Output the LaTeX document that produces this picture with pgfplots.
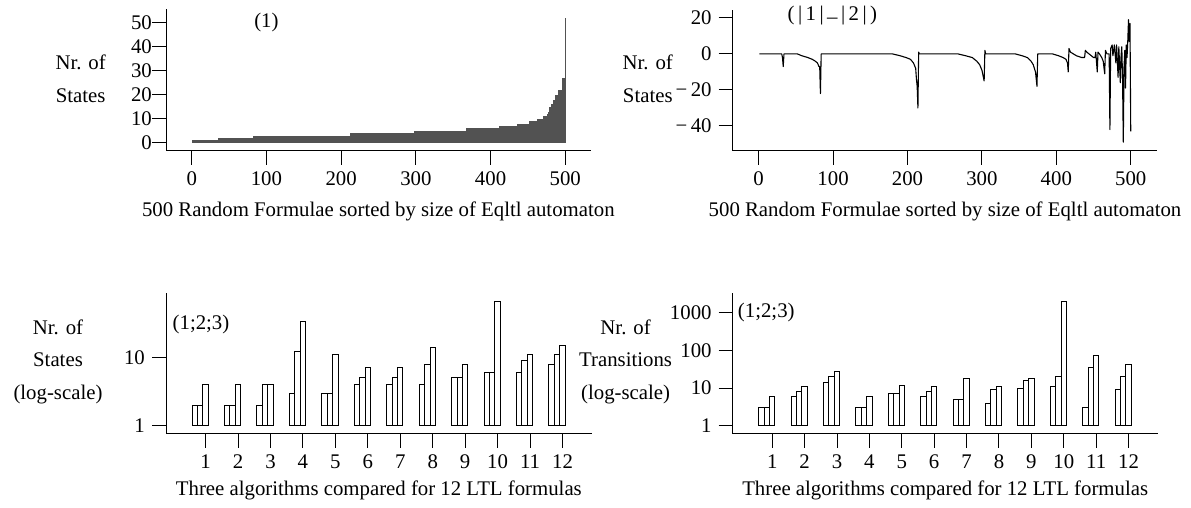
\documentclass[border=0pt]{standalone}
\usepackage{fontspec}
\setmainfont{Liberation Serif}
\usepackage{pgfplots}
\pgfplotsset{compat=1.18}

\pgfplotsset{
  panel/.style={
    scale only axis,
    anchor=south west,
    axis lines=left,
    axis line style={-, line width=1pt},
    tick align=outside,
    major tick length=14pt,
    tick style={black, line width=1pt},
    /pgf/number format/assume math mode=true,
    xlabel style={anchor=center},
    clip=false,
  },
  bars/.style={ybar, bar width=0.1667, draw=black, fill=white, line width=1pt},
}

\begin{document}
\fontsize{20.8}{32.5}\selectfont
\begin{tikzpicture}
\path[use as bounding box] (0pt,0pt) rectangle (1191pt,508pt);

% top left: sizes of the 500 automata
\begin{axis}[panel, at={(166pt,357pt)},
  width=424.7pt, height=141.7pt,
  xmin=-34.4, xmax=534, ymin=-3.47, ymax=55.7,
  xtick={0,100,...,500}, ytick={0,10,...,50},
  yticklabel style={xshift=7pt},
  xlabel={500 Random Formulae sorted by size of Eqltl automaton},
  xlabel style={at={(axis description cs:0.5,-0.428)}},
]
\addplot[ycomb, black!68, line width=0.35pt, mark=none]
  table[row sep=\\, x expr=\coordindex+1, y index=0]{
v\\
1\\1\\1\\1\\1\\1\\1\\1\\1\\1\\
1\\1\\1\\1\\1\\1\\1\\1\\1\\1\\
1\\1\\1\\1\\1\\1\\1\\1\\1\\1\\
1\\1\\1\\1\\1\\
2\\2\\2\\2\\2\\2\\2\\2\\2\\2\\
2\\2\\2\\2\\2\\2\\2\\2\\2\\2\\
2\\2\\2\\2\\2\\2\\2\\2\\2\\2\\
2\\2\\2\\2\\2\\2\\2\\2\\2\\2\\
2\\2\\2\\2\\2\\2\\
3\\3\\3\\3\\3\\3\\3\\3\\3\\3\\
3\\3\\3\\3\\3\\3\\3\\3\\3\\3\\
3\\3\\3\\3\\3\\3\\3\\3\\3\\3\\
3\\3\\3\\3\\3\\3\\3\\3\\3\\3\\
3\\3\\3\\3\\3\\3\\3\\3\\3\\3\\
3\\3\\3\\3\\3\\3\\3\\3\\3\\3\\
3\\3\\3\\3\\3\\3\\3\\3\\3\\3\\
3\\3\\3\\3\\3\\3\\3\\3\\3\\3\\
3\\3\\3\\3\\3\\3\\3\\3\\3\\3\\
3\\3\\3\\3\\3\\3\\3\\3\\3\\3\\
3\\3\\3\\3\\3\\3\\3\\3\\3\\3\\
3\\3\\3\\3\\3\\3\\3\\3\\3\\3\\
3\\3\\3\\3\\3\\3\\3\\3\\3\\3\\
4\\4\\4\\4\\4\\4\\4\\4\\4\\4\\
4\\4\\4\\4\\4\\4\\4\\4\\4\\4\\
4\\4\\4\\4\\4\\4\\4\\4\\4\\4\\
4\\4\\4\\4\\4\\4\\4\\4\\4\\4\\
4\\4\\4\\4\\4\\4\\4\\4\\4\\4\\
4\\4\\4\\4\\4\\4\\4\\4\\4\\4\\
4\\4\\4\\4\\4\\4\\4\\4\\4\\4\\
4\\4\\4\\4\\4\\4\\4\\4\\4\\4\\
4\\4\\4\\4\\4\\4\\
5\\5\\5\\5\\5\\5\\5\\5\\5\\5\\
5\\5\\5\\5\\5\\5\\5\\5\\5\\5\\
5\\5\\5\\5\\5\\5\\5\\5\\5\\5\\
5\\5\\5\\5\\5\\5\\5\\5\\5\\5\\
5\\5\\5\\5\\5\\5\\5\\5\\5\\5\\
5\\5\\5\\5\\5\\5\\5\\5\\5\\5\\
5\\5\\5\\5\\5\\5\\5\\5\\5\\5\\
6\\6\\6\\6\\6\\6\\6\\6\\6\\6\\
6\\6\\6\\6\\6\\6\\6\\6\\6\\6\\
6\\6\\6\\6\\6\\6\\6\\6\\6\\6\\
6\\6\\6\\6\\6\\6\\6\\6\\6\\6\\
6\\6\\6\\6\\
7\\7\\7\\7\\7\\7\\7\\7\\7\\7\\
7\\7\\7\\7\\7\\7\\7\\7\\7\\7\\
7\\7\\7\\7\\
8\\8\\8\\8\\8\\8\\8\\8\\8\\8\\
8\\8\\8\\8\\8\\
9\\9\\9\\9\\9\\9\\9\\9\\9\\9\\
9\\9\\
10\\10\\10\\10\\10\\10\\10\\10\\
11\\11\\11\\11\\11\\12\\13\\13\\15\\15\\
16\\16\\16\\18\\18\\18\\20\\20\\20\\20\\
22\\22\\22\\22\\22\\27\\27\\27\\27\\52\\
};
\node at (axis cs:100,50) {(1)};
\node[align=center] at (axis description cs:-0.201,0.508) {Nr. of\\States};
\end{axis}

% top right: difference |1|-|2|
\begin{axis}[panel, at={(732.7pt,357pt)},
  width=424.6pt, height=141pt,
  xmin=-34.9, xmax=535.7, ymin=-53.9, ymax=24.4,
  xtick={0,100,...,500}, ytick={-40,-20,0,20},
  yticklabels={−\,40,−\,20,0,20},
  xlabel={500 Random Formulae sorted by size of Eqltl automaton},
  xlabel style={at={(axis description cs:0.5,-0.43)}},
]
\addplot[black, line width=1.1pt, line join=round, mark=none] coordinates {
(1,0) (31,0) (32,-2) (33,-7) (34,0) (52,0) (58,-1) (66,-2) (72,-3) (76,-4)
(79,-5) (81,-7) (82,-7) (83,-22) (84,0) (180,0) (190,-1) (198,-2) (204,-3)
(208,-5) (211,-8) (212,-14) (213,-18) (214,-30) (215,1) (216,0) (268,0)
(278,-1) (287,-2) (293,-4) (297,-6) (300,-9) (302,-13) (303,-15) (304,2)
(305,0) (345,0) (354,-1) (361,-2) (366,-4) (369,-6) (372,-10) (374,-18)
(375,0) (395,0) (403,-1) (409,-2) (413,-3) (415,-5) (416,-10) (417,3)
(419,1) (423,0) (427,-1) (434,-2) (438,-2) (439,2) (441,1) (444,0) (447,-1)
(450,-2) (452,-2) (453,1) (455,-10) (456,1) (458,0) (461,-2) (463,-4)
(465,-11) (466,2) (468,0) (471,0) (472,-42) (473,3) (475,5) (476,-1) (478,5)
(480,-5) (481,5) (483,-13) (484,4) (486,-16) (487,-1) (488,4) (489,-14)
(490,-49) (491,-7) (492,2) (493,-19) (494,5) (495,-2) (496,7) (497,19)
(498,7) (499,17) (500,-43)
};
\node at (axis cs:99,21.1) {(\,|\,1\,|\,\raisebox{4pt}{\_}\,|\,2\,|\,)};
\node[align=center] at (axis description cs:-0.2,0.511) {Nr. of\\States};
\end{axis}

% bottom left: states, log scale
\begin{axis}[panel, at={(166pt,74pt)},
  width=425.7pt, height=141.3pt,
  ymode=log, xmin=-0.22, xmax=12.9, ymin=0.756, ymax=88.5,
  xtick={1,...,12}, ytick={1,10}, yticklabels={1,10}, yminorticks=false,
  xlabel={Three algorithms compared for 12 LTL formulas},
  xlabel style={at={(axis description cs:0.5,-0.396)}},
]
\addplot[bars, bar shift=-0.3333] coordinates {(1,2) (2,2) (3,2) (4,3) (5,3) (6,4) (7,4) (8,4) (9,5) (10,6) (11,6) (12,8)};
\addplot[bars, bar shift=-0.1667] coordinates {(1,2) (2,2) (3,4) (4,12) (5,3) (6,5) (7,5) (8,8) (9,5) (10,6) (11,9) (12,11)};
\addplot[bars, bar shift=0] coordinates {(1,4) (2,4) (3,4) (4,33) (5,11) (6,7) (7,7) (8,14) (9,8) (10,65) (11,11) (12,15)};
\node at (rel axis cs:0.0822,0.778) {(1;2;3)};
\node[align=center] at (axis description cs:-0.2537,0.512) {Nr. of\\States\\(log-scale)};
\end{axis}

% bottom right: transitions, log scale
\begin{axis}[panel, at={(732.7pt,74pt)},
  width=425pt, height=141.3pt,
  ymode=log, xmin=-0.22, xmax=12.9, ymin=0.602, ymax=3396,
  xtick={1,...,12}, ytick={1,10,100,1000}, yticklabels={1,10,100,1000}, yminorticks=false,
  xlabel={Three algorithms compared for 12 LTL formulas},
  xlabel style={at={(axis description cs:0.5,-0.396)}},
]
\addplot[bars, bar shift=-0.3333] coordinates {(1,3) (2,6) (3,14) (4,3) (5,7) (6,6) (7,5) (8,4) (9,10) (10,11) (11,3) (12,9)};
\addplot[bars, bar shift=-0.1667] coordinates {(1,3) (2,8) (3,20) (4,3) (5,7) (6,8) (7,5) (8,9) (9,16) (10,20) (11,36) (12,20)};
\addplot[bars, bar shift=0] coordinates {(1,6) (2,11) (3,27) (4,6) (5,12) (6,11) (7,18) (8,11) (9,18) (10,1960) (11,75) (12,43)};
\node at (rel axis cs:0.079,0.858) {(1;2;3)};
\node[align=center] at (axis description cs:-0.252,0.512) {Nr. of\\Transitions\\(log-scale)};
\end{axis}
\end{tikzpicture}
\end{document}
